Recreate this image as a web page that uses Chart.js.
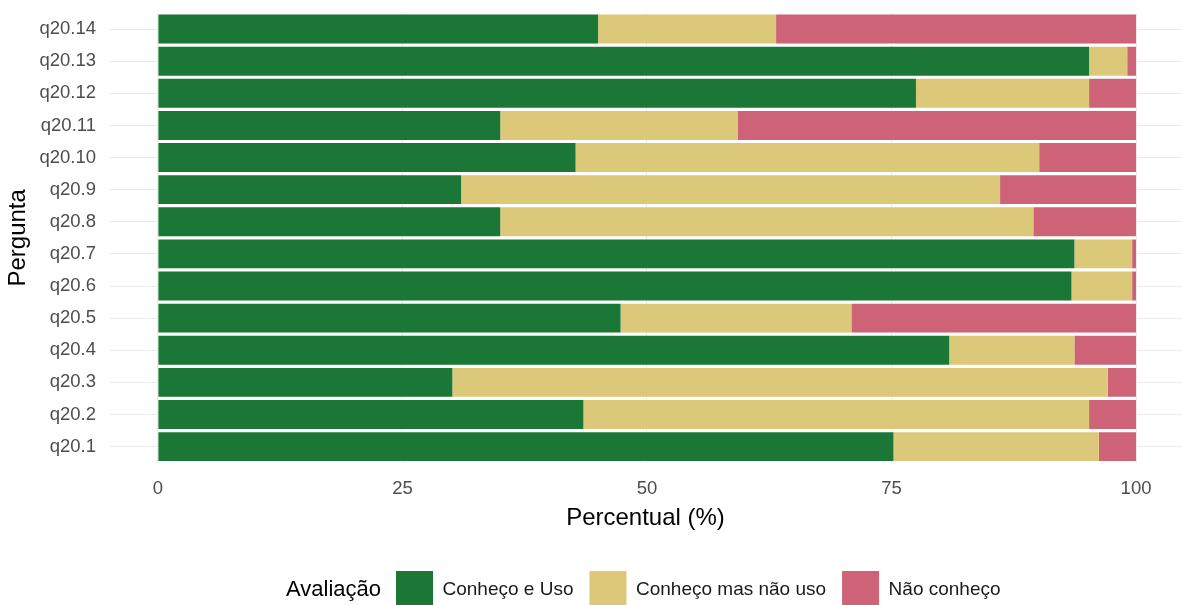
<!DOCTYPE html>
<html>
<head>
<meta charset="utf-8">
<script src="https://cdn.jsdelivr.net/npm/chart.js@4"></script>
<style>
  html, body { margin: 0; padding: 0; background: #ffffff; }
</style>
</head>
<body>
<canvas id="perguntaChart" width="1182" height="605"></canvas>
<script>
const questions = ['q20.1', 'q20.2', 'q20.3', 'q20.4', 'q20.5', 'q20.6', 'q20.7',
                   'q20.8', 'q20.9', 'q20.10', 'q20.11', 'q20.12', 'q20.13', 'q20.14'];
const conhecoUso    = [75.2, 43.5, 30.1, 80.9, 47.3, 93.4, 93.7, 35.0, 31.0, 42.7, 35.0, 77.5, 95.2, 45.0];
const conhecoNaoUso = [21.0, 51.7, 67.0, 12.8, 23.6,  6.2,  5.9, 54.5, 55.1, 47.4, 24.3, 17.7,  3.9, 18.2];
const naoConheco    = [ 3.8,  4.8,  2.9,  6.3, 29.1,  0.4,  0.4, 10.5, 13.9,  9.9, 40.7,  4.8,  0.9, 36.8];
const xTicks = [0, 25, 50, 75, 100];

const FONT = "'Liberation Sans', Arial, sans-serif";

// legend sits inline with its title, like ggplot's bottom legend
const legendInline = {
    id: 'legendInline',
    beforeDraw(chart) {
        const lg = chart.legend;
        lg.left = 396 - lg.options.labels.padding;
        lg.top = 571 - lg.options.labels.padding;
    },
    afterDraw(chart) {
        const ctx = chart.ctx;
        ctx.save();
        ctx.font = '22px ' + FONT;
        ctx.fillStyle = '#000000';
        ctx.textAlign = 'right';
        ctx.textBaseline = 'middle';
        ctx.fillText('Avaliação', 381, 590);
        ctx.restore();
    }
};

const ctx = document.getElementById('perguntaChart').getContext('2d');
new Chart(ctx, {
    type: 'bar',
    data: {
        labels: questions,
        datasets: [
            {label: 'Conheço e Uso', data: conhecoUso, backgroundColor: '#1a7735'},
            {label: 'Conheço mas não uso', data: conhecoNaoUso, backgroundColor: '#dbc879'},
            {label: 'Não conheço', data: naoConheco, backgroundColor: '#ce6277'}
        ]
    },
    plugins: [legendInline],
    options: {
        indexAxis: 'y',
        responsive: false,
        animation: false,
        datasets: {
            bar: {categoryPercentage: 0.9, barPercentage: 1.0, borderWidth: 0}
        },
        layout: {padding: {top: 13, right: 0, left: 0, bottom: 0}},
        plugins: {
            tooltip: {enabled: false},
            legend: {
                position: 'bottom',
                align: 'start',
                maxHeight: 60,
                labels: {
                    boxWidth: 37,
                    boxHeight: 37,
                    padding: 16,
                    color: '#1a1a1a',
                    font: {family: FONT, size: 19}
                }
            }
        },
        scales: {
            x: {
                type: 'linear',
                stacked: true,
                min: -5,
                max: 104.7,
                afterBuildTicks: scale => { scale.ticks = xTicks.map(v => ({value: v})); },
                afterFit: scale => { scale.height = 82.3; },
                grid: {color: '#ebebeb', drawTicks: false},
                border: {display: false},
                ticks: {color: '#4d4d4d', padding: 15, font: {family: FONT, size: 18.5}},
                title: {
                    display: true,
                    text: 'Percentual (%)',
                    color: '#000000',
                    font: {family: FONT, size: 24},
                    padding: {top: 0, bottom: 12}
                }
            },
            y: {
                stacked: true,
                reverse: true,
                afterFit: scale => {
                    scale.width = 109;
                    scale.paddingTop = 0;
                    scale.paddingBottom = 0;
                },
                grid: {color: '#ebebeb', drawTicks: false, offset: false},
                border: {display: false},
                ticks: {color: '#4d4d4d', padding: 13, font: {family: FONT, size: 18.5}},
                title: {
                    display: true,
                    text: 'Pergunta',
                    color: '#000000',
                    font: {family: FONT, size: 24},
                    padding: {top: 4, bottom: 0}
                }
            }
        }
    }
});
</script>
</body>
</html>
